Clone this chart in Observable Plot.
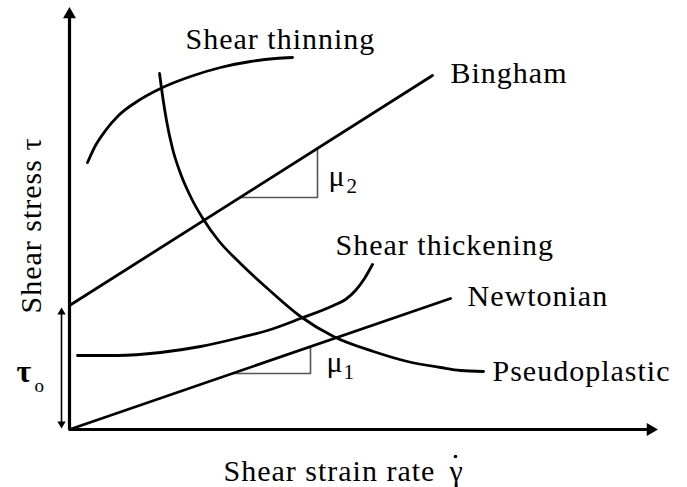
<!DOCTYPE html>
<html><head><meta charset="utf-8">
<script src="https://cdn.jsdelivr.net/npm/d3@7"></script>
<script src="https://cdn.jsdelivr.net/npm/@observablehq/plot@0.6"></script>
<style>
html,body{margin:0;padding:0;background:#fff}
#chart svg text{font-family:"Liberation Serif","Times New Roman","DejaVu Serif",serif !important;letter-spacing:1px}
</style>
</head><body><div id="chart"></div>
<script>
// Axis extents (arbitrary units)
const xDomain = [0, 58.8];
const yDomain = [0, 41.8];
const xAxisEnd = 58.0;
const yAxisEnd = 41.3;

// Straight-line models
const binghamX = [0, 36.3];
const binghamY = [12.4, 35.4];
const newtonianX = [0, 38.1];
const newtonianY = [0, 13.1];

// Curved models
const thinningX = [1.8, 2.6, 3.6, 4.9, 6.6, 9.1, 12.1, 15.1, 18.1, 20.6, 22.3];
const thinningY = [26.7, 28.4, 29.9, 31.4, 32.7, 34.1, 35.3, 36.2, 36.8, 37.1, 37.2];
const pseudoX = [9.0, 9.3, 9.7, 10.3, 11.1, 12.2, 13.4, 14.9, 17.1, 19.8, 23.1, 26.4, 30.4, 33.8, 37.1, 39.1, 41.4];
const pseudoY = [35.6, 33.4, 30.9, 28.1, 25.6, 23.1, 21.0, 18.9, 16.6, 14.1, 11.3, 9.3, 7.8, 6.8, 6.2, 5.9, 5.8];
const thickX = [0.8, 4.8, 9.1, 13.1, 17.1, 19.8, 23.1, 26.4, 27.6, 28.6, 29.5, 30.3];
const thickY = [7.4, 7.4, 7.7, 8.3, 9.2, 9.9, 11.1, 12.4, 13.0, 13.9, 15.1, 16.5];

// Slope triangles
const mu2X = [17.05, 24.8, 24.8];
const mu2Y = [23.2, 23.2, 28.1];
const mu1X = [16.29, 24.1, 24.1];
const mu1Y = [5.6, 5.6, 8.29];

// Yield stress double arrow
const tauX = -0.8;
const tauY = [0.1, 12.2];

// Labels
const labelText = ["Shear thinning", "Bingham", "Shear thickening", "Newtonian", "Pseudoplastic", "μ", "μ"];
const labelX = [11.6, 38.1, 26.6, 39.8, 42.3, 25.9, 25.7];
const labelY = [38.1, 34.7, 17.5, 12.4, 4.9, 24.4, 5.8];
const labelSize = [30, 30, 30, 30, 30, 30, 30];
const subText = ["2", "1", "o"];
const subX = [27.7, 27.4, -3.5];
const subY = [23.7, 5.1, 3.8];
const subSize = [21, 21, 19];
const tauLabel = {text: "τ", x: -5.3, y: 4.8};
const yTitle = {text: "Shear stress τ", x: -2.9, y: 20.4};
const xTitle = {text: "Shear strain rate", x: 15.4, y: -5.1};
const gammaLabel = {text: "γ", x: 38.0, y: -5.1};
const gammaDot = {x: 38.6, y: -2.7};

const pts = (xs, ys) => xs.map((x, i) => ({x, y: ys[i]}));
const labels = labelText.map((t, i) => ({t, x: labelX[i], y: labelY[i], s: labelSize[i]}));
const subs = subText.map((t, i) => ({t, x: subX[i], y: subY[i], s: subSize[i]}));

const chart = Plot.plot({
  width: 687,
  height: 487,
  marginLeft: 69,
  marginRight: 30,
  marginTop: 11,
  marginBottom: 58,
  x: {domain: xDomain, axis: null},
  y: {domain: yDomain, axis: null},
  style: {background: "white"},
  marks: [
    // axes
    Plot.ruleX([0], {y1: 0, y2: yAxisEnd, stroke: "black", strokeWidth: 3.2}),
    Plot.ruleY([0], {x1: 0, x2: xAxisEnd, stroke: "black", strokeWidth: 3.2}),
    Plot.dot([{x: 0, y: 41.5}], {x: "x", y: "y", symbol: "triangle", r: 4.8, fill: "black", stroke: "none"}),
    Plot.dot([{x: 58.1, y: 0}], {x: "x", y: "y", symbol: "triangle", r: 4.8, fill: "black", stroke: "none", rotate: 90}),
    // yield stress arrow
    Plot.ruleX([tauX], {y1: tauY[0] + 0.5, y2: tauY[1] - 0.5, stroke: "black", strokeWidth: 1.6}),
    Plot.dot([{x: tauX, y: tauY[1] - 0.47}], {x: "x", y: "y", symbol: "triangle", r: 3.1, fill: "black", stroke: "none"}),
    Plot.dot([{x: tauX, y: tauY[0] + 0.47}], {x: "x", y: "y", symbol: "triangle", r: 3.1, fill: "black", stroke: "none", rotate: 180}),
    // slope triangles
    Plot.line(pts(mu2X, mu2Y), {x: "x", y: "y", stroke: "#555", strokeWidth: 1.6}),
    Plot.line(pts(mu1X, mu1Y), {x: "x", y: "y", stroke: "#555", strokeWidth: 1.6}),
    // models
    Plot.line(pts(binghamX, binghamY), {x: "x", y: "y", stroke: "black", strokeWidth: 2.8}),
    Plot.line(pts(newtonianX, newtonianY), {x: "x", y: "y", stroke: "black", strokeWidth: 2.8}),
    Plot.line(pts(thinningX, thinningY), {x: "x", y: "y", curve: "monotone-x", stroke: "black", strokeWidth: 2.8}),
    Plot.line(pts(pseudoX, pseudoY), {x: "x", y: "y", curve: "monotone-x", stroke: "black", strokeWidth: 2.8}),
    Plot.line(pts(thickX, thickY), {x: "x", y: "y", curve: "monotone-x", stroke: "black", strokeWidth: 2.8}),
    // labels
    Plot.text(labels, {x: "x", y: "y", text: "t", fontSize: "s", textAnchor: "start", lineAnchor: "bottom", fill: "black"}),
    Plot.text(subs, {x: "x", y: "y", text: "t", fontSize: "s", textAnchor: "start", lineAnchor: "bottom", fill: "black"}),
    Plot.text([tauLabel], {x: "x", y: "y", text: "text", fontSize: 32, fontWeight: "bold", textAnchor: "start", lineAnchor: "bottom", fill: "black"}),
    Plot.text([yTitle], {x: "x", y: "y", text: "text", fontSize: 30, rotate: -90, textAnchor: "middle", lineAnchor: "bottom", fill: "black"}),
    Plot.text([xTitle], {x: "x", y: "y", text: "text", fontSize: 30, textAnchor: "start", lineAnchor: "bottom", fill: "black"}),
    Plot.text([gammaLabel], {x: "x", y: "y", text: "text", fontSize: 30, textAnchor: "start", lineAnchor: "bottom", fill: "black"}),
    Plot.dot([gammaDot], {x: "x", y: "y", r: 1.8, fill: "black", stroke: "none"})
  ]
});
document.getElementById("chart").appendChild(chart);
</script>
</body></html>
